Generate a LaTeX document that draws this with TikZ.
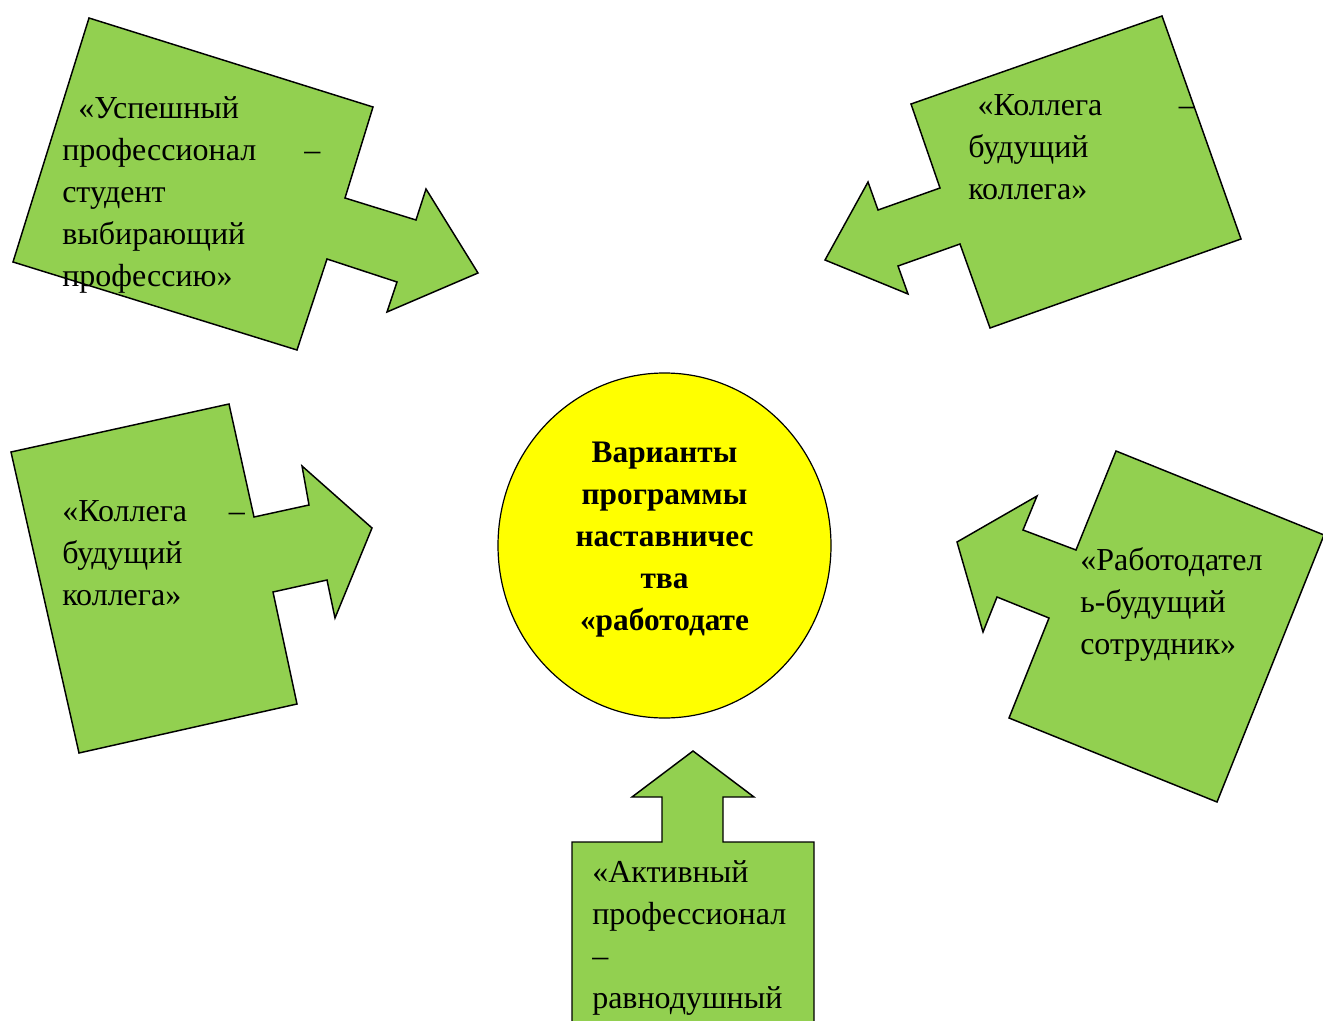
\documentclass[tikz,border=0pt]{standalone}
\usepackage{fontspec}
\setmainfont{Liberation Serif}
\usetikzlibrary{positioning}

\definecolor{calloutgreen}{RGB}{146,208,80}
\definecolor{centreyellow}{RGB}{255,255,0}

\tikzset{
    callout/.style={fill=calloutgreen, draw=black, line width=1.1pt, line join=miter},
    calloutlabel/.style={anchor=north west, inner sep=0pt, align=left,
        font=\fontsize{24}{31.5}\selectfont},
    centrelabel/.style={anchor=north, inner sep=0pt, align=center,
        font=\fontsize{23.5}{31.5}\selectfont\bfseries}
}

\begin{document}
\begin{tikzpicture}[x=0.75pt, y=-0.75pt]
		% Ramme
		\useasboundingbox (0,0) rectangle (1323,1020);
		\clip (0,0) rectangle (1323,1020);

		% Pil oppe til venstre
		\draw[callout] (89,18) -- (373,107) -- (345,198) -- (416,220) -- (426,189) --
		(478,273) -- (387,312) -- (397,282) -- (327,259) -- (297,350) -- (13,262) -- cycle;

		% Pil oppe til hoyre
		\draw[callout] (1162,16) -- (1241,239) -- (990,328) -- (960,244) -- (898,266) --
		(908,294) -- (825,260) -- (868,182) -- (878,210) -- (940,188) -- (911,104) -- cycle;

		% Pil i midten til venstre
		\draw[callout] (11,452) -- (229,404) -- (254,517) -- (309,505) -- (302,466) --
		(372,528) -- (335,618) -- (327,580) -- (273,592) -- (297,704) -- (79,753) -- cycle;

		% Pil i midten til hoyre
		\draw[callout] (1116,451) -- (1324,535) -- (1217,802) -- (1009,718) -- (1049,618) --
		(997,597) -- (983,632) -- (957,542) -- (1037,496) -- (1023,530) -- (1076,550) -- cycle;

		% Pil nederst
		\draw[callout] (572,1030) -- (572,842) -- (662,842) -- (662,797) -- (632,797) --
		(693,751) -- (754,797) -- (723,797) -- (723,842) -- (814,842) -- (814,1030) -- cycle;

		% Sirkel i midten
		\draw[fill=centreyellow, draw=black, line width=0.9pt] (664.5,545.5) ellipse [x radius=166.5, y radius=172.5];
		\node[centrelabel] (centre) at (664.5,432.6) {\strut Варианты\\программы\\наставничес\\тва\\«работодате};

		% Tekster
		\node[calloutlabel, text width=193.5pt] (successful) at (62,88.6)
		{\strut\hspace*{12pt}«Успешный\\профессионал\hfill–\\студент\\выбирающий\\профессию»};
		\node[calloutlabel, text width=170pt] (colleagueright) at (968,85.6)
		{\strut\hspace*{7pt}«Коллега\hfill–\\будущий\\коллега»};
		\node[calloutlabel, text width=137pt] (colleagueleft) at (62,491.6)
		{\strut«Коллега\hfill–\\будущий\\коллега»};
		\node[calloutlabel] (employer) at (1080,540.6)
		{\strut«Работодател\\ь-будущий\\сотрудник»};
		\node[calloutlabel] (active) at (592,852.6)
		{\strut«Активный\\профессионал\\–\\равнодушный};
	\end{tikzpicture}
\end{document}
